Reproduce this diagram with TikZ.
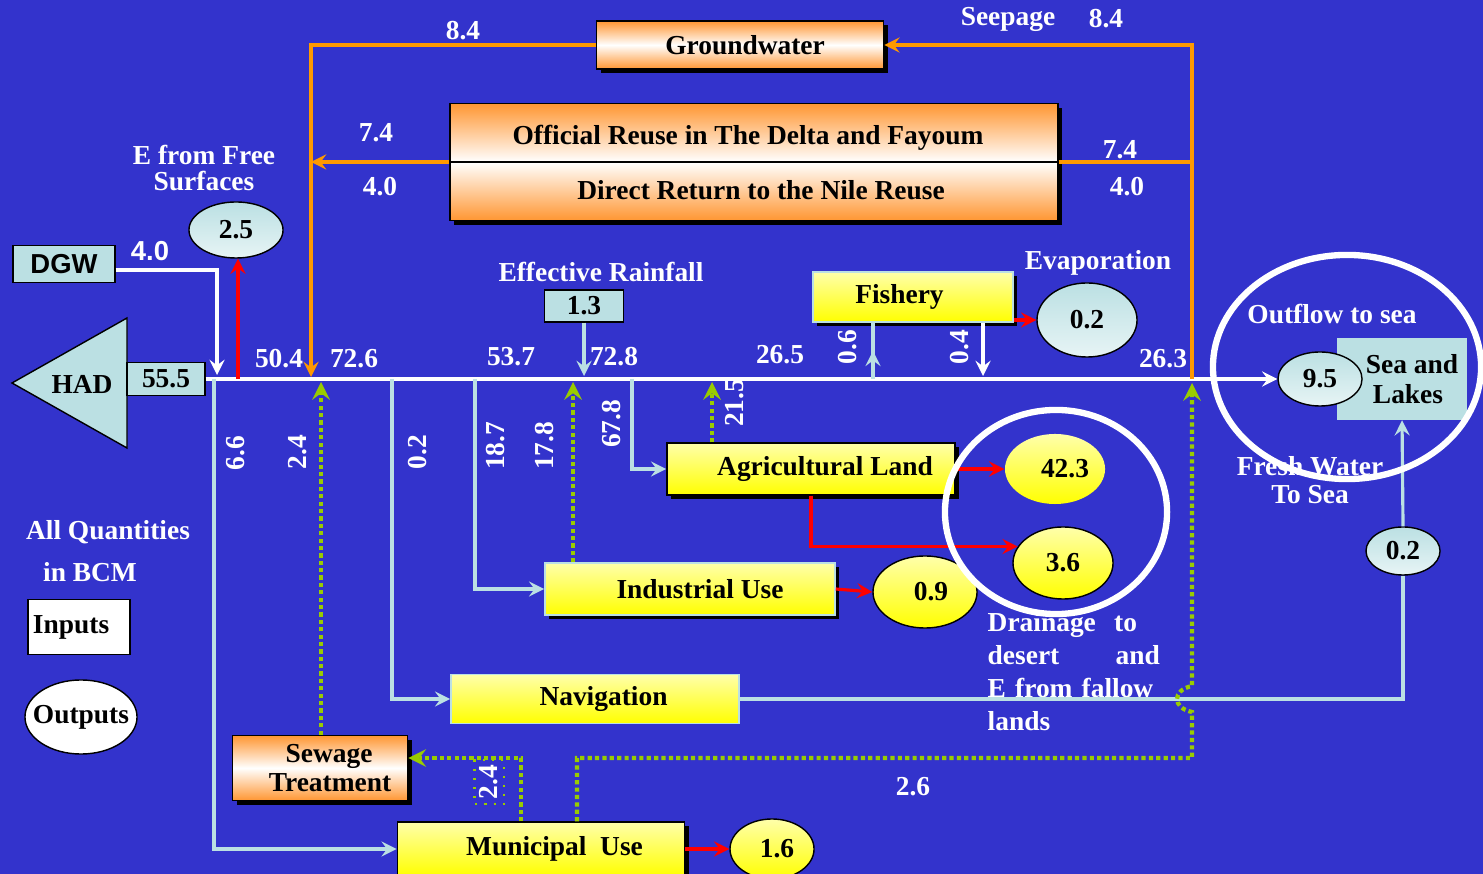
\documentclass[tikz,border=0pt]{standalone}
\usepackage{fontspec}
\setmainfont{Liberation Serif}
\newfontfamily\arialfont{Liberation Sans}
\usetikzlibrary{shapes.geometric,shadows,calc}

\definecolor{bgblue}{RGB}{51,51,204}
\definecolor{lcyan}{RGB}{187,224,227}
\definecolor{paleyel}{RGB}{255,255,170}
\definecolor{flowor}{RGB}{255,153,0}
\definecolor{boxor}{RGB}{255,150,50}
\definecolor{lime}{RGB}{153,204,0}

\tikzset{
  txt/.style={font=\fontsize{7.8}{9.4}\selectfont\bfseries, inner sep=0pt},
  lbl/.style={txt, text=white},
  vlbl/.style={lbl, rotate=90},
  shd/.style={general shadow={fill=black, shadow xshift=1.2pt, shadow yshift=-1.2pt}},
  ybox/.style={txt, draw=black, top color=paleyel, bottom color=yellow},
  obox/.style={txt, draw=black, top color=boxor, bottom color=boxor, middle color=white, shd},
  cbox/.style={txt, draw=black, fill=lcyan},
  yell/.style={ellipse, txt, draw=black, top color=paleyel, bottom color=yellow},
  cell/.style={ellipse, txt, draw=black, top color=lcyan, bottom color=lcyan!35!white},
  flow/.style={line width=0.9pt},
  wflow/.style={flow, white},
  bflow/.style={flow, lcyan},
  oflow/.style={flow, flowor},
  rflow/.style={flow, red},
  gflow/.style={line width=1.2pt, lime, dash pattern=on 1.2pt off 0.9pt},
  ring/.style={white, line width=1.8pt},
}

\begin{document}
\begin{tikzpicture}[x=0.01cm, y=-0.01cm, >=stealth]
\useasboundingbox (0,0) rectangle (1483,874);
\fill[bgblue] (0,0) rectangle (1483,874);

% sources on the left
\draw[fill=lcyan, draw=black] (12,383) -- (127,318) -- (127,448) -- cycle;
\node[txt] (had) at (82,384) {HAD};
\node[cbox, minimum width=0.78cm, minimum height=0.33cm] (had55) at (166,379) {55.5};
\node[cbox, font=\arialfont\fontsize{7.8}{9.4}\selectfont\bfseries, minimum width=1.02cm, minimum height=0.37cm] (dgw) at (64,264) {DGW};
\node[lbl, font=\arialfont\fontsize{7.8}{9.4}\selectfont\bfseries] (l40d) at (150,251) {4.0};
\node[cell, minimum width=0.94cm, minimum height=0.56cm] (e25) at (236,230) {2.5};
\node[lbl, align=center, font=\fontsize{7.8}{7.6}\selectfont\bfseries] (efree) at (204,168) {E from Free\\Surfaces};

% legend
\node[lbl] (qty1) at (108,532) {All Quantities};
\node[lbl] (qty2) at (90,572) {in BCM};
\node[txt, draw=black, fill=white, minimum width=1.02cm, minimum height=0.55cm, text width=0.92cm, align=left] (inp) at (79,627) {Inputs};
\node[ellipse, draw=black, fill=white, minimum width=1.12cm, minimum height=0.74cm, inner sep=0pt] (outp) at (81,717) {};
\node[txt] (loutp) at (outp) {Outputs};

% reuse and groundwater
\node[obox, minimum width=2.87cm, minimum height=0.48cm] (gw) at (740,45) {\hspace*{0.1cm}Groundwater};
\node[obox, minimum width=6.08cm, minimum height=1.17cm] (reuse) at (754,162) {};
\draw[black, line width=0.8pt] (reuse.west) -- (reuse.east);
\node[txt] (rtop) at (748,138) {Official Reuse in The Delta and Fayoum};
\node[txt] (rbot) at (761,190) {Direct Return to the Nile Reuse};

% users
\node[cbox, minimum width=0.79cm, minimum height=0.32cm] (rain) at (584,306) {1.3};
\node[lbl] (lrain) at (601,272) {Effective Rainfall};
\node[ybox, draw=lcyan, shd, minimum width=2.00cm, minimum height=0.50cm] (fish) at (913,297) {Fishery\hspace*{0.27cm}};
\node[cell, minimum width=1.00cm, minimum height=0.74cm] (evap) at (1087,320) {0.2};
\node[lbl] (levap) at (1098,263) {Evaporation};
\node[ybox, shd, minimum width=2.88cm, minimum height=0.52cm] (agri) at (811,469) {\hspace*{0.28cm}Agricultural Land};
\node[yell, draw=none, minimum width=1.00cm, minimum height=0.70cm] (a423) at (1055,469) {\hspace*{0.2cm}42.3};
\node[yell, minimum width=1.00cm, minimum height=0.72cm] (a36) at (1063,563) {3.6};
\node[ybox, draw=lcyan, shd, minimum width=2.90cm, minimum height=0.52cm] (ind) at (690,589) {\hspace*{0.2cm}Industrial Use};
\node[yell, minimum width=1.04cm, minimum height=0.72cm] (i09) at (925,592) {\hspace*{0.12cm}0.9};
\node[ybox, draw=lcyan, minimum width=2.88cm, minimum height=0.49cm] (nav) at (595,699) {\hspace*{0.17cm}Navigation};
\node[obox, align=center, font=\fontsize{7.8}{8.4}\selectfont\bfseries, minimum width=1.75cm, minimum height=0.65cm] (sew) at (320,768) {\hspace*{0.18cm}Sewage\\\hspace*{0.2cm}Treatment};
\node[ybox, shd, minimum width=2.87cm, minimum height=0.54cm] (muni) at (541,849) {\hspace*{0.27cm}Municipal~ Use};
\node[yell, minimum width=0.84cm, minimum height=0.60cm] (m16) at (772,849) {\hspace*{0.1cm}1.6};

% sea
\node[txt, fill=lcyan, align=center, font=\fontsize{7.8}{8.5}\selectfont\bfseries, minimum width=1.29cm, minimum height=0.81cm] (sea) at (1402,379) {\hspace*{0.2cm}Sea and\\\hspace*{0.12cm}Lakes};
\node[cell, minimum width=0.84cm, minimum height=0.54cm] (o95) at (1320,379) {9.5};
\node[cell, minimum width=0.74cm, minimum height=0.48cm] (f02) at (1403,551) {0.2};
\node[lbl] (lout) at (1332,314) {Outflow to sea};
\node[lbl, align=center, font=\fontsize{7.8}{8}\selectfont\bfseries] (lfresh) at (1310,480) {Fresh Water\\To Sea};
\node[lbl, anchor=north west, text width=1.72cm, align=left] (ldrain) at (987,612) {Drainage\ \ to\\desert\hfill and\\E from fallow\\lands};

% points on the river
\coordinate (j40) at (217,375);
\coordinate (j25) at (238,379);
\coordinate (j504) at (311,377);
\coordinate (j24) at (321,382);
\coordinate (j66) at (214,379);
\coordinate (j02) at (392,379);
\coordinate (j187) at (475,379);
\coordinate (j178) at (573,382);
\coordinate (j13) at (584,376);
\coordinate (j678) at (632,379);
\coordinate (j215) at (712,382);
\coordinate (j06) at (873,379);
\coordinate (j04) at (983,376);
\coordinate (j263) at (1192,379);
\coordinate (j26) at (1192,383);
\coordinate (c24) at (521,758);
\coordinate (c26) at (577,758);

\draw[wflow,->] (had55.east) -- (o95.west);
\draw[wflow,->] ([yshift=-1.7pt]dgw.east) -| (j40);
\draw[rflow,->] (j25) -- (j25 |- e25.south);

% withdrawals
\draw[bflow,->] (j66) |- (muni.west);
\draw[bflow,->] (j02) |- (nav.west);
\draw[bflow,->] (j187) |- (ind.west);
\draw[bflow,->] (j678) |- (agri.west);
\draw[bflow,->] (rain.south) -- (j13);
\draw[bflow] (j06) -- (j06 |- fish.south);
\draw[bflow,->] (j06) -- ($(j06)!0.5!(j06 |- fish.south)$);
\draw[wflow,->] (fish.south -| j04) -- (j04);
\draw[bflow] (nav.east) -| (f02.south);
\draw[bflow,->] (f02.north) -- (sea.south);

% losses
\draw[rflow,->] (fish.east |- evap.west) -- (evap.west);
\draw[rflow,->] (agri.east) -- (a423.west);
\draw[rflow,->] (agri.south) |- (a36.160);
\draw[rflow,->] (ind.east) -- (i09.west);
\draw[rflow,->] (muni.east) -- (m16.west);

% reuse loops
\draw[oflow,->] (gw.west) -| (j504);
\draw[oflow,->] (reuse.west) -- (reuse.west -| j504);
\draw[oflow,->] (j263) |- (gw.east);
\draw[oflow] (reuse.east) -- (reuse.east -| j263);

% return flows
\draw[gflow,->] (sew.north -| j24) -- (j24);
\draw[gflow,->] (ind.north -| j178) -- (j178);
\draw[gflow,->] (agri.north -| j215) -- (j215);
\draw[gflow,->] (muni.north -| c24) -- (c24) -- (c24 -| sew.east);
\draw[gflow,->] (muni.north -| c26) -- (c26) -- (1192,758) -- (1192,712)
  .. controls (1172,708) and (1172,690) .. (1192,686) -- (j26);

% flow values
\node[lbl] (l84a) at (463,31) {8.4};
\node[lbl] (l74a) at (376,133) {7.4};
\node[lbl] (l40a) at (380,187) {4.0};
\node[lbl] (lseep) at (1008,19) {Seepage};
\node[lbl] (l84b) at (1106,19) {8.4};
\node[lbl] (l74b) at (1120,150) {7.4};
\node[lbl] (l40b) at (1127,187) {4.0};
\node[lbl] (l504) at (279,359) {50.4};
\node[lbl] (l726) at (354,359) {72.6};
\node[lbl] (l537) at (511,357) {53.7};
\node[lbl] (l728) at (614,357) {72.8};
\node[lbl] (l265) at (780,355) {26.5};
\node[lbl] (l263) at (1163,359) {26.3};
\node[vlbl] (l66) at (236,453) {6.6};
\node[vlbl] (l24a) at (298,452) {2.4};
\node[vlbl] (l02) at (418,452) {0.2};
\node[vlbl] (l187) at (496,446) {18.7};
\node[vlbl] (l178) at (545,446) {17.8};
\node[vlbl] (l678) at (612,424) {67.8};
\node[vlbl] (l215) at (735,403) {21.5};
\node[vlbl] (l06) at (848,347) {0.6};
\node[vlbl] (l04) at (960,347) {0.4};
\node[vlbl, draw=lime, dotted, line width=0.6pt, inner sep=1.5pt] (l24b) at (489,782) {2.4};
\node[lbl] (l26) at (913,787) {2.6};

% highlight rings
\draw[ring] (1056,512) ellipse [x radius=1.11cm, y radius=1.02cm];
\draw[ring] (1347,367) ellipse [x radius=1.34cm, y radius=1.12cm];
\end{tikzpicture}
\end{document}
